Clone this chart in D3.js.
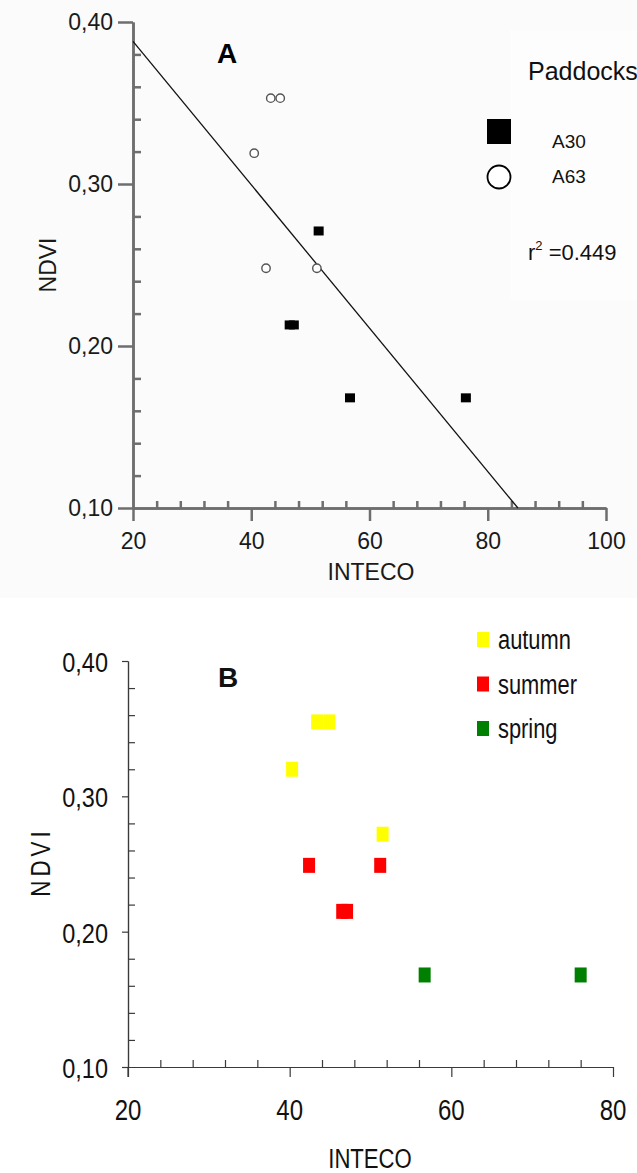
<!DOCTYPE html>
<html><head><meta charset="utf-8">
<script src="https://cdn.jsdelivr.net/npm/d3@7"></script>
<style>body{margin:0;background:#fff}svg{display:block}text{font-family:"Liberation Sans",Arial,sans-serif}</style>
</head><body>
<script>
// ---- data ----
const a30X = [51.4, 46.5, 47.2, 56.7, 76.3];
const a30Y = [0.271, 0.213, 0.213, 0.168, 0.168];
const a63X = [43.3, 44.9, 40.5, 42.5, 51.1];
const a63Y = [0.353, 0.353, 0.319, 0.248, 0.248];
const fitX = [20, 85.1];
const fitY = [0.388, 0.10];
const seasons = ["autumn", "summer", "spring"];
const seasonColors = ["#ffff00", "#ff0000", "#008000"];
const autumnX = [40.3, 43.4, 44.9, 51.5];
const autumnY = [0.320, 0.355, 0.355, 0.272];
const summerX = [42.4, 51.2, 46.5, 47.1];
const summerY = [0.249, 0.249, 0.215, 0.215];
const springX = [56.7, 76.0];
const springY = [0.168, 0.168];
const yTicks = [0.10, 0.20, 0.30, 0.40];
const yTickLabels = ["0,10", "0,20", "0,30", "0,40"];
const xTicksA = [20, 40, 60, 80, 100];
const xTicksB = [20, 40, 60, 80];
const r2Text = "0.449";

const W = 637, H = 1173;
const svg = d3.select("body").append("svg").attr("width", W).attr("height", H);

// ---------- Panel A ----------
svg.append("rect").attr("x",0).attr("y",0).attr("width",W).attr("height",598).attr("fill","#fbfbfb");
svg.append("rect").attr("x",510).attr("y",30).attr("width",127).attr("height",270).attr("fill","#fdfdfd");

const xA = d3.scaleLinear().domain([20,100]).range([133,606]);
const yA = d3.scaleLinear().domain([0.10,0.40]).range([508,22]);
const axCol = "#6e6e6e";
const gA = svg.append("g");

const yMinorA = d3.range(0.10, 0.4001, 0.02).filter(v => Math.abs(v*10 - Math.round(v*10)) > 1e-6);
const xMinorA = d3.range(20, 100.01, 4).filter(v => v % 20 !== 0);

gA.append("g").attr("transform","translate(133,0)")
  .call(d3.axisLeft(yA).tickValues(yTicks).tickSize(15).tickSizeOuter(0).tickPadding(5)
    .tickFormat((d,i)=>yTickLabels[i]));
gA.append("g").attr("transform","translate(133,0)")
  .call(d3.axisRight(yA).tickValues(yMinorA).tickSize(8).tickSizeOuter(0).tickFormat(""));
gA.append("g").attr("transform","translate(0,508)")
  .call(d3.axisBottom(xA).tickValues(xTicksA).tickSize(13).tickSizeOuter(0).tickPadding(12));
gA.append("g").attr("transform","translate(0,508)")
  .call(d3.axisTop(xA).tickValues(xMinorA).tickSize(7).tickSizeOuter(0).tickFormat(""));
gA.selectAll(".domain, .tick line").attr("stroke", axCol).attr("stroke-width", 2.5);
gA.selectAll("text").attr("font-size", 23).attr("fill", "#1a1a1a").attr("font-family", '"Liberation Sans",Arial,sans-serif');

// regression line
svg.append("path")
  .datum(fitX.map((x,i)=>[x, fitY[i]]))
  .attr("d", d3.line().x(d=>xA(d[0])).y(d=>yA(d[1])))
  .attr("stroke","#111").attr("stroke-width",1.3).attr("fill","none");

// points
svg.append("g").selectAll("rect").data(a30X.map((x,i)=>[x,a30Y[i]])).join("rect")
  .attr("x", d=>xA(d[0])-5).attr("y", d=>yA(d[1])-4.5).attr("width",10).attr("height",9).attr("fill","#000");
svg.append("g").selectAll("circle").data(a63X.map((x,i)=>[x,a63Y[i]])).join("circle")
  .attr("cx", d=>xA(d[0])).attr("cy", d=>yA(d[1])).attr("r",4.2)
  .attr("fill","#fff").attr("stroke","#555").attr("stroke-width",1.4);

// labels
svg.append("text").attr("x",227).attr("y",63).attr("text-anchor","middle")
  .attr("font-size",28).attr("font-weight","bold").text("A");
svg.append("text").attr("x",371).attr("y",580).attr("text-anchor","middle")
  .attr("font-size",23).attr("fill","#1a1a1a").text("INTECO");
svg.append("text").attr("transform","translate(56,265) rotate(-90)").attr("text-anchor","middle")
  .attr("font-size",23).attr("fill","#1a1a1a").text("NDVI");

// legend A
svg.append("text").attr("x",528).attr("y",80).attr("font-size",25).attr("fill","#111").text("Paddocks");
svg.append("rect").attr("x",487).attr("y",119).attr("width",24).attr("height",25).attr("fill","#000");
svg.append("circle").attr("cx",499).attr("cy",177).attr("r",11.5).attr("fill","#fff").attr("stroke","#000").attr("stroke-width",1.8);
svg.append("text").attr("x",552).attr("y",148).attr("font-size",19).attr("fill","#111").text("A30");
svg.append("text").attr("x",552).attr("y",183).attr("font-size",19).attr("fill","#111").text("A63");
const r2 = svg.append("text").attr("x",528).attr("y",260).attr("font-size",22).attr("fill","#111");
r2.append("tspan").text("r");
r2.append("tspan").attr("font-size",13).attr("dy",-10).text("2");
r2.append("tspan").attr("dy",10).text(" =" + r2Text);

// ---------- Panel B ----------
const xB = d3.scaleLinear().domain([20,80]).range([128,613]);
const yB = d3.scaleLinear().domain([0.10,0.40]).range([1067,661]);
const gB = svg.append("g");
const colB = "#3a3a3a";
const yMinorB = yMinorA;
const xMinorB = d3.range(20, 80.01, 4).filter(v => v % 20 !== 0);

gB.append("g").attr("transform","translate(128,0)")
  .call(d3.axisLeft(yB).tickValues(yTicks).tickSize(6).tickSizeOuter(0).tickFormat(""));
gB.append("g").attr("transform","translate(128,0)")
  .call(d3.axisRight(yB).tickValues(yMinorB).tickSize(7).tickSizeOuter(0).tickFormat(""));
gB.append("g").attr("transform","translate(0,1067)")
  .call(d3.axisBottom(xB).tickValues(xTicksB).tickSize(10).tickSizeOuter(0).tickFormat(""));
gB.append("g").attr("transform","translate(0,1067)")
  .call(d3.axisTop(xB).tickValues(xMinorB).tickSize(7).tickSizeOuter(0).tickFormat(""));
gB.selectAll(".domain, .tick line").attr("stroke", colB).attr("stroke-width", 1.2);
gB.append("line").attr("x1",128).attr("x2",128).attr("y1",1067).attr("y2",1077).attr("stroke",colB).attr("stroke-width",1.2);

function ntext(x, y, txt, size, sx, anchor, rot) {
  return svg.append("text")
    .attr("transform", `translate(${x},${y})` + (rot ? ` rotate(${rot})` : "") + ` scale(${sx},1)`)
    .attr("text-anchor", anchor).attr("font-size", size).attr("fill", "#111").text(txt);
}
yTicks.forEach((v,i)=> ntext(108, yB(v)+11, yTickLabels[i], 28, 0.84, "end"));
xTicksB.forEach(v => ntext(xB(v), 1120, String(v), 30, 0.8, "middle"));
ntext(370, 1168, "INTECO", 28, 0.79, "middle");
ntext(50, 862, "NDVI", 28, 0.8, "middle", -90).attr("letter-spacing", 5);
svg.append("text").attr("x",228).attr("y",687).attr("text-anchor","middle")
  .attr("font-size",28).attr("font-weight","bold").attr("fill","#111").text("B");

// points B
const seriesB = [[autumnX, autumnY], [summerX, summerY], [springX, springY]];
seriesB.forEach((s,k)=>{
  svg.append("g").selectAll("rect").data(s[0].map((x,i)=>[x, s[1][i]])).join("rect")
    .attr("x", d=>xB(d[0])-6).attr("y", d=>yB(d[1])-7.5).attr("width",12).attr("height",15)
    .attr("fill", seasonColors[k]);
});
// legend B
seasons.forEach((name,k)=>{
  const y0 = 632 + k*44.5;
  svg.append("rect").attr("x",477).attr("y",y0).attr("width",12).attr("height",15).attr("fill",seasonColors[k]);
  ntext(498, y0+17, name, 27, 0.81, "start");
});
</script>
</body></html>
